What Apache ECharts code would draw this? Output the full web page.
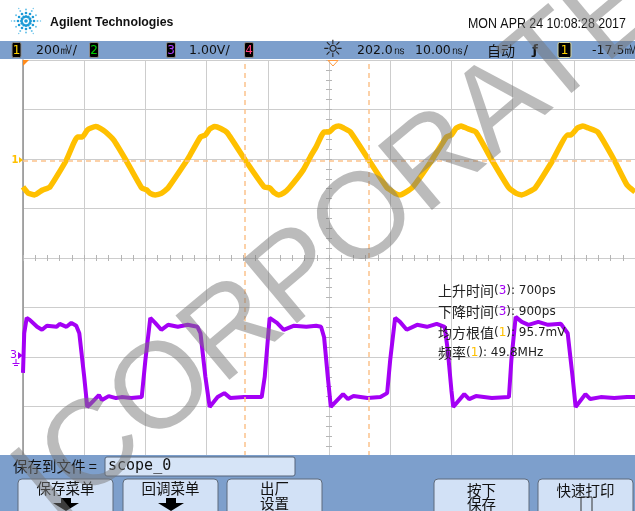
<!DOCTYPE html>
<html><head><meta charset="utf-8">
<script src="https://cdn.jsdelivr.net/npm/echarts@6/dist/echarts.min.js"></script>
<style>html,body{margin:0;padding:0;background:#fff}#c{width:635px;height:511px}</style>
</head><body><div id="c"></div>
<script>
// ---------------- DATA ----------------
// time axis: ns relative to screen centre, 10 ns/div
const timeTicks = [-50, -40, -30, -20, -10, 0, 10, 20, 30, 40, 50];
// Channel 1 (yellow), mV, 200 mV/div
const ch1Time = [-50.0,-49.2,-48.1,-46.8,-45.6,-42.9,-41.1,-40.3,-39.5,-38.9,-38.1,-37.3,-36.5,-35.2,-33.2,-30.6,-29.8,-29.2,-28.4,-27.4,-26.3,-23.5,-22.7,-21.0,-20.2,-19.5,-18.7,-17.7,-16.6,-13.7,-10.6,-9.7,-8.9,-8.2,-7.4,-6.5,-4.2,-2.9,-2.1,-0.8,0.0,0.8,1.6,2.4,3.5,6.5,9.5,10.0,10.8,11.6,12.5,13.7,16.5,19.2,20.0,20.8,21.6,22.4,24.0,26.6,29.4,30.6,31.5,32.5,33.7,36.3,39.0,39.5,40.6,41.5,42.4,43.9,46.6,48.7,50.0];
const ch1mV   = [-107,-131,-139,-119,-107,2,95,95,123,131,137,129,115,83,2,-111,-119,-133,-139,-133,-111,-10,22,95,103,127,137,129,111,2,-107,-111,-131,-139,-131,-111,-38,22,55,115,115,133,139,131,115,2,-111,-119,-133,-139,-129,-107,-10,95,103,131,139,131,115,2,-111,-133,-139,-129,-111,-10,103,103,131,139,131,115,2,-99,-127];
// Channel 3 (purple), V, 1.00 V/div
const ch3Time = [-50.0,-49.8,-49.4,-48.9,-47.7,-46.9,-46.1,-44.5,-44.0,-42.9,-42.1,-41.3,-40.8,-40.0,-39.5,-38.7,-37.6,-37.1,-36.0,-34.8,-33.9,-32.3,-30.6,-30.0,-29.2,-28.4,-27.4,-26.3,-24.7,-23.1,-21.5,-21.0,-20.2,-19.5,-18.2,-17.1,-16.1,-13.9,-11.0,-10.5,-9.7,-8.5,-7.4,-5.8,-3.7,-2.1,-1.3,-0.8,-0.2,0.3,2.3,3.1,4.0,6.3,8.4,9.5,10.0,10.8,11.6,12.7,14.4,16.0,17.6,18.9,19.4,20.0,20.3,22.1,22.9,24.0,26.6,29.4,29.8,30.5,31.5,32.6,34.2,35.8,37.9,39.0,39.8,40.3,41.9,42.7,44.4,46.6,48.7,50.0];
const ch3V    = [-0.32,0.48,0.79,0.75,0.61,0.55,0.63,0.61,0.67,0.61,0.69,0.63,0.48,-0.40,-1.01,-0.91,-0.77,-0.87,-0.79,-0.83,-0.81,-0.83,-0.81,-0.06,0.79,0.69,0.55,0.65,0.61,0.65,0.61,0.48,-0.40,-1.01,-0.81,-0.73,-0.83,-0.81,-0.81,-0.40,0.79,0.69,0.55,0.63,0.61,0.63,0.61,0.40,-0.40,-1.01,-0.75,-0.85,-0.79,-0.83,-0.81,-0.73,-0.06,0.79,0.71,0.55,0.65,0.61,0.67,0.61,0.14,-0.67,-1.01,-0.75,-0.85,-0.79,-0.83,-0.81,-0.06,0.81,0.71,0.65,0.71,0.65,0.67,0.48,-0.40,-1.01,-0.75,-0.85,-0.81,-0.83,-0.81,-0.81];
// cursors (ns) and ch1 reference level (mV)
const cursorTimes = [-13.7, 6.5];
const ch1RefLevel = [0];
// header / footer texts
const headerLeft  = ['200㎷/', '1.00V/'];
const headerRight = ['202.0㎱', '10.00㎱/', '自动', '-17.5㎷'];
const dateText = 'MON APR 24 10:08:28 2017';
const measNames  = ['上升时间', '下降时间', '均方根值', '频率'];
const measChan   = ['3', '3', '1', '1'];
const measValues = ['700ps', '900ps', '95.7mV', '49.8MHz'];
const buttonLabels = [['保存菜单'], ['回调菜单'], ['出厂', '设置'], ['按下', '保存'], ['快速打印']];

// ---------------- CHART ----------------
const chart = echarts.init(document.getElementById('c'), null, {renderer: 'canvas'});
const GRID = {left: 23, top: 60, width: 620, height: 396};
const gridColor = '#cdcdcd';
const tickColor = '#b5b5b5';
const YEL = '#ffc000', PUR = '#a400f5', ORG = '#fbc28c';
const CJK = 'Noto Sans CJK SC';

const els = [];
function T(x, y, text, o) {
  o = o || {};
  els.push({type: 'text', x: x, y: y, z: o.z || 60, scaleX: o.sx || 1, rotation: o.rot || 0,
    style: {text: text, fontSize: o.fs || 12, fontFamily: o.ff || 'DejaVu Sans', fontWeight: o.fw || 'normal',
      fill: o.c || '#111', align: o.a || 'left', verticalAlign: o.va || 'middle',
      textAlign: o.a || 'left', textVerticalAlign: o.va || 'middle', rich: o.rich}});
}
function R(x, y, w, h, fill, stroke, r, z, lw) {
  els.push({type: 'rect', z: z || 55, shape: {x: x, y: y, width: w, height: h, r: r || 0},
    style: {fill: fill, stroke: stroke || null, lineWidth: lw || 1}});
}
function P(points, fill, stroke, z) {
  els.push({type: 'polygon', z: z || 56, shape: {points: points}, style: {fill: fill || null, stroke: stroke || null, lineWidth: 1}});
}

// --- logo
const lc = [26, 21];
els.push({type: 'circle', z: 60, shape: {cx: lc[0], cy: lc[1], r: 1.8}, style: {fill: '#1c9bd8'}});
for (let k = 0; k < 12; k++) {
  const a = k * Math.PI / 6;
  const rs = [4.5, 8, 11.5, 14.5];
  const sz = [1.5, 1.3, 1.0, 0.7];
  rs.forEach((rr, j) => {
    if (k % 2 === 1 && j === 3) return;
    els.push({type: 'circle', z: 60, shape: {cx: lc[0] + rr * Math.cos(a), cy: lc[1] + rr * Math.sin(a), r: sz[j]},
      style: {fill: j < 2 ? '#1d9ad6' : '#6cc3ea'}});
  });
}
T(50, 23, 'Agilent Technologies', {ff: 'Liberation Sans', fw: 'bold', fs: 12.3, c: '#111'});
T(468, 24, dateText, {ff: 'Liberation Sans', fs: 14.5, sx: 0.855, c: '#111'});

// --- header bar
R(0, 41, 635, 18, '#7d9fcc', null, 0, 50);
function chanBox(x, label, color) {
  R(x, 42.5, 9, 15, '#000', '#8a8a8a', 1.5, 55);
  T(x + 4.5, 50.5, label, {a: 'center', fs: 12, c: color, z: 57});
}
chanBox(12, '1', '#ffd400');
T(36, 50.5, headerLeft[0], {fs: 12.5, c: '#111'});
chanBox(89.5, '2', '#00d000');
chanBox(166.5, '3', '#b040ff');
T(189, 50.5, headerLeft[1], {fs: 12.5, c: '#111'});
chanBox(244.5, '4', '#ff3d7a');
T(333, 51, '☼', {a: 'center', fs: 24, c: '#222'});
T(357, 50.5, headerRight[0], {fs: 12.5, c: '#111'});
T(415, 50.5, headerRight[1], {fs: 12.5, c: '#111'});
T(487, 50.5, headerRight[2], {ff: CJK, fs: 14, c: '#111'});
T(535, 50.5, 'ƒ', {a: 'center', fs: 13, c: '#111', fw: 'bold'});
R(558, 42.5, 13, 15, '#000', '#d8d8a0', 1.5, 55);
T(564.5, 50.5, '1', {a: 'center', fs: 12, c: '#ffd400', z: 57});
T(592, 50.5, headerRight[3], {fs: 12.5, c: '#111'});

// --- graticule markers
P([[23, 60], [29, 60], [23, 66]], '#ff8a1a', null, 20);
P([[328, 60.5], [338, 60.5], [333, 66]], null, '#ff9a40', 20);
// ch1 ground marker
T(15, 160, '1', {a: 'center', fs: 10, c: YEL, fw: 'bold', z: 20});
P([[19, 157], [23, 160], [19, 163]], YEL, null, 20);
// ch3 ground marker
T(13.5, 355, '3', {a: 'center', fs: 11, c: PUR, z: 20});
P([[18, 352], [23, 355.5], [18, 359]], PUR, null, 20);
els.push({type: 'polyline', z: 20, shape: {points: [[16, 359], [16, 363]]}, style: {stroke: PUR, lineWidth: 1}});
els.push({type: 'polyline', z: 20, shape: {points: [[12.5, 363.5], [19.5, 363.5]]}, style: {stroke: PUR, lineWidth: 1}});
els.push({type: 'polyline', z: 20, shape: {points: [[14, 365.5], [18, 365.5]]}, style: {stroke: PUR, lineWidth: 1}});

// --- measurements
const measStyles = {
  cj: {fontFamily: CJK, fontSize: 14, fill: '#222'},
  n: {fontFamily: 'DejaVu Sans', fontSize: 12, fill: '#222'},
  c3: {fontFamily: 'DejaVu Sans', fontSize: 12, fill: '#a400f5'},
  c1: {fontFamily: 'DejaVu Sans', fontSize: 12, fill: '#ffc000'}
};
measNames.forEach((nm, i) => {
  const cs = measChan[i] === '3' ? 'c3' : 'c1';
  T(438, 291 + i * 20.7, '{cj|' + nm + '}{n|(}{' + cs + '|' + measChan[i] + '}{n|): ' + measValues[i] + '}',
    {rich: measStyles, z: 40});
});

// --- bottom panel
R(0, 455, 635, 56, '#7d9fcc', null, 0, 50);
T(13, 466, '保存到文件 =', {ff: CJK, fs: 14.5, c: '#111'});
R(105, 457, 190, 19, '#d6e4f7', '#56657a', 2, 55);
T(108, 466.5, 'scope_0', {ff: 'DejaVu Sans Mono', fs: 15, c: '#111'});
const btnX = [18, 123, 227, 434, 538];
buttonLabels.forEach((lab, i) => {
  const x = btnX[i], cx = x + 47.5;
  R(x, 479, 95, 40, '#d2e1f6', '#5f6b7c', 4, 55);
  if (lab.length === 1) {
    T(cx, i === 4 ? 490 : 488, lab[0], {a: 'center', ff: CJK, fs: 14.5, c: '#111'});
  } else {
    T(cx, i === 3 ? 490 : 488, lab[0], {a: 'center', ff: CJK, fs: 14.5, c: '#111'});
    T(cx, i === 3 ? 504 : 503, lab[1], {a: 'center', ff: CJK, fs: 14.5, c: '#111'});
  }
});
[66, 171].forEach(cx => {
  P([[cx - 5, 498], [cx + 5, 498], [cx + 5, 503], [cx + 13, 503], [cx, 511], [cx - 13, 503], [cx - 5, 503]], '#000', null, 58);
});
R(581, 497, 11, 16, '#d2e1f6', '#333', 0, 58);

// --- watermark
T(34, 500, 'ICORPORATE', {ff: 'Liberation Sans', fs: 122, c: 'rgba(120,120,120,0.5)', rot: 40 * Math.PI / 180, z: 100});

const noLbl = {show: false};
const option = {
  animation: false,
  backgroundColor: '#ffffff',
  grid: Object.assign({containLabel: false}, GRID),
  xAxis: [
    {type: 'value', min: timeTicks[0], max: timeTicks[timeTicks.length - 1], interval: 10, position: 'bottom',
      axisLine: {show: false, onZero: false}, axisTick: {show: false}, axisLabel: noLbl,
      splitLine: {show: true, lineStyle: {color: gridColor, width: 1}}},
    {type: 'value', min: -50, max: 50, interval: 2, position: 'bottom',
      axisLine: {show: false, onZero: true, onZeroAxisIndex: 0}, axisTick: {show: true, inside: true, length: 3, lineStyle: {color: tickColor}},
      axisLabel: noLbl, splitLine: {show: false}},
    {type: 'value', min: -50, max: 50, interval: 2, position: 'bottom',
      axisLine: {show: false, onZero: true, onZeroAxisIndex: 0}, axisTick: {show: true, inside: false, length: 3, lineStyle: {color: tickColor}},
      axisLabel: noLbl, splitLine: {show: false}}
  ],
  yAxis: [
    {type: 'value', min: -20, max: 20, interval: 5, position: 'left',
      axisLine: {show: true, onZero: false, lineStyle: {color: '#8f8f8f', width: 1.5}}, axisTick: {show: false}, axisLabel: noLbl,
      splitLine: {show: true, lineStyle: {color: gridColor, width: 1}}},
    {type: 'value', min: -1194, max: 406, position: 'left', show: false, axisLine: {onZero: false}},
    {type: 'value', min: -2, max: 6, position: 'left', show: false, axisLine: {onZero: false}},
    {type: 'value', min: -20, max: 20, interval: 1, position: 'left',
      axisLine: {show: false, onZero: true, onZeroAxisIndex: 0}, axisTick: {show: true, inside: true, length: 3, lineStyle: {color: tickColor}},
      axisLabel: noLbl, splitLine: {show: false}},
    {type: 'value', min: -20, max: 20, interval: 1, position: 'left',
      axisLine: {show: false, onZero: true, onZeroAxisIndex: 0}, axisTick: {show: true, inside: false, length: 3, lineStyle: {color: tickColor}},
      axisLabel: noLbl, splitLine: {show: false}}
  ],
  series: [
    {type: 'line', name: 'cursors', xAxisIndex: 0, yAxisIndex: 1, data: [], z: 1, silent: true,
      markLine: {silent: true, symbol: 'none', animation: false, label: {show: false},
        lineStyle: {color: ORG, width: 1.5, type: [5, 4]},
        data: cursorTimes.map(t => ({xAxis: t})).concat(ch1RefLevel.map(v => ({yAxis: v})))}},
    {type: 'line', name: 'CH1', xAxisIndex: 0, yAxisIndex: 1, showSymbol: false, smooth: 0.15, z: 3,
      lineStyle: {color: YEL, width: 5.5}, data: ch1Time.map((t, i) => [t, ch1mV[i]])},
    {type: 'line', name: 'CH3', xAxisIndex: 0, yAxisIndex: 2, showSymbol: false, z: 4,
      lineStyle: {color: PUR, width: 4}, data: ch3Time.map((t, i) => [t, ch3V[i]])}
  ],
  graphic: {elements: els}
};
chart.setOption(option);
</script>
</body></html>
